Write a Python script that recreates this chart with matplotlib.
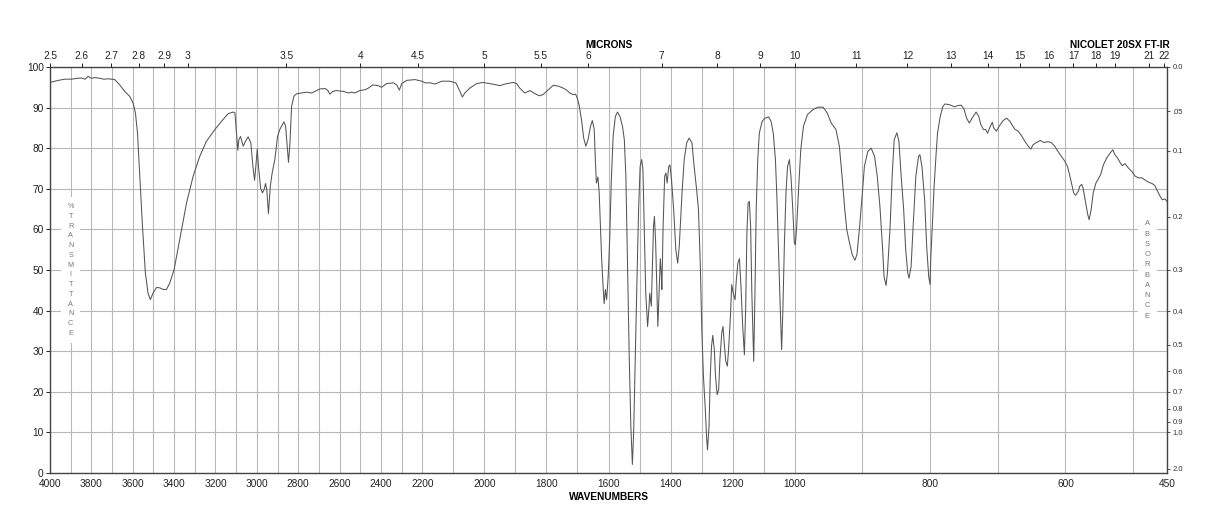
import numpy as np
import matplotlib
matplotlib.use("Agg")
from matplotlib import pyplot as plt

# spectrum (cm-1, %T)
wavenumber = [
    4000, 3977, 3950, 3929, 3897, 3870, 3848, 3830, 3816, 3800, 3785, 3768,
    3740, 3720, 3703, 3687, 3663, 3639, 3615, 3598, 3587, 3577, 3566, 3553,
    3539, 3526, 3515, 3502, 3485, 3469, 3453, 3437, 3421, 3400, 3373, 3340,
    3308, 3276, 3244, 3203, 3171, 3139, 3115, 3106, 3097, 3092, 3087, 3079,
    3066, 3055, 3042, 3029, 3019, 3011, 3005, 2998, 2992, 2982, 2973, 2965,
    2958, 2952, 2944, 2935, 2926, 2913, 2900, 2889, 2881, 2869, 2861, 2853,
    2847, 2840, 2832, 2821, 2808, 2784, 2760, 2735, 2719, 2695, 2671, 2658,
    2647, 2635, 2619, 2600, 2582, 2558, 2542, 2526, 2502, 2477, 2461, 2440,
    2413, 2397, 2373, 2340, 2324, 2311, 2300, 2276, 2235, 2203, 2191, 2175,
    2159, 2138, 2111, 2092, 2079, 2071, 2063, 2047, 2025, 2004, 1982, 1961,
    1950, 1934, 1907, 1896, 1886, 1870, 1853, 1841, 1823, 1811, 1794, 1778,
    1762, 1746, 1735, 1725, 1714, 1706, 1701, 1695, 1687, 1680, 1673, 1666,
    1658, 1652, 1646, 1642, 1639, 1634, 1630, 1626, 1622, 1617, 1614, 1610,
    1606, 1601, 1596, 1591, 1585, 1578, 1571, 1563, 1555, 1549, 1544, 1539,
    1533, 1528, 1523, 1519, 1514, 1508, 1503, 1498, 1493, 1489, 1485, 1480,
    1474, 1470, 1467, 1462, 1458, 1455, 1452, 1448, 1444, 1441, 1437, 1433,
    1430, 1428, 1424, 1419, 1415, 1411, 1406, 1402, 1397, 1390, 1383, 1377,
    1372, 1363, 1356, 1348, 1340, 1331, 1324, 1316, 1310, 1304, 1299, 1294,
    1288, 1284, 1281, 1276, 1272, 1268, 1264, 1259, 1255, 1250, 1245, 1241,
    1235, 1231, 1227, 1222, 1217, 1213, 1207, 1203, 1198, 1192, 1188, 1183,
    1178, 1173, 1168, 1162, 1158, 1154, 1150, 1146, 1142, 1138, 1132, 1128,
    1124, 1119, 1114, 1105, 1096, 1084, 1076, 1069, 1062, 1057, 1052, 1046,
    1042, 1038, 1033, 1028, 1023, 1017, 1012, 1006, 1001, 999, 997, 994,
    991, 987, 981, 973, 966, 958, 952, 946, 939, 934, 930, 926,
    923, 919, 915, 911, 908, 904, 900, 897, 892, 887, 882, 878,
    874, 870, 868, 865, 863, 859, 856, 853, 849, 846, 843, 839,
    836, 833, 831, 828, 825, 821, 817, 815, 812, 808, 805, 802,
    800, 799, 796, 794, 791, 789, 785, 781, 778, 771, 764, 759,
    754, 750, 746, 742, 738, 732, 728, 725, 721, 718, 715, 711,
    708, 706, 702, 698, 692, 687, 682, 675, 670, 665, 660, 655,
    651, 648, 643, 637, 632, 626, 621, 616, 611, 606, 601, 597,
    594, 590, 588, 585, 581, 579, 576, 574, 570, 567, 565, 562,
    559, 555, 552, 548, 544, 539, 534, 530, 527, 523, 519, 516,
    512, 507, 502, 497, 492, 487, 482, 477, 472, 468, 464, 460,
    457, 453, 450,
]
transmittance = [
    96.2, 96.5, 96.8, 97.0, 97.0, 97.2, 97.3, 97.0, 97.7, 97.2, 97.4, 97.3,
    97.0, 97.1, 97.0, 96.9, 95.6, 94.0, 92.8, 91.1, 88.7, 83.7, 73.1, 60.8,
    49.3, 44.3, 42.7, 44.3, 45.7, 45.6, 45.2, 45.2, 46.8, 50.1, 57.5, 66.5,
    73.1, 78.0, 81.7, 84.6, 86.6, 88.5, 88.9, 88.7, 82.9, 79.5, 82.1, 82.9,
    80.5, 81.7, 82.8, 81.3, 75.5, 72.1, 75.5, 79.8, 75.5, 70.2, 69.0, 69.8,
    71.3, 69.8, 63.9, 70.6, 73.9, 77.2, 82.9, 84.6, 85.4, 86.5, 85.4, 80.5,
    76.5, 81.3, 90.3, 92.8, 93.4, 93.6, 93.8, 93.6, 94.0, 94.6, 94.7, 94.3,
    93.3, 93.9, 94.2, 94.1, 94.0, 93.6, 93.8, 93.6, 94.2, 94.4, 94.8, 95.6,
    95.4, 95.0, 95.9, 96.1, 95.6, 94.3, 95.9, 96.7, 96.9, 96.5, 96.1, 96.1,
    95.8, 96.5, 96.5, 96.1, 94.0, 92.6, 93.6, 94.8, 95.9, 96.2, 95.9, 95.6,
    95.4, 95.8, 96.2, 95.9, 94.8, 93.6, 94.2, 93.6, 92.9, 93.2, 94.4, 95.5,
    95.3, 94.8, 94.3, 93.6, 93.2, 93.3, 92.4, 90.7, 87.0, 82.5, 80.5, 82.1,
    85.4, 86.8, 84.6, 76.4, 71.4, 72.9, 69.0, 60.8, 52.6, 45.2, 41.7, 45.2,
    42.7, 48.4, 58.0, 72.0, 83.0, 87.8, 88.9, 87.8, 85.4, 82.1, 73.1, 52.6,
    27.9, 11.5, 2.1, 9.8, 27.9, 48.4, 64.9, 75.5, 77.2, 74.7, 60.8, 44.3,
    36.1, 40.2, 44.3, 41.1, 52.6, 60.8, 63.2, 56.7, 44.3, 36.1, 44.3, 52.8,
    49.3, 45.2, 60.8, 73.1, 73.9, 71.4, 75.5, 75.9, 72.3, 64.9, 55.0, 51.7,
    55.8, 69.0, 77.2, 81.3, 82.5, 81.3, 75.5, 69.8, 64.9, 50.9, 34.5, 23.8,
    15.6, 9.0, 5.7, 11.5, 23.8, 31.2, 33.9, 30.4, 23.8, 19.3, 20.5, 27.9,
    34.5, 36.1, 32.0, 27.5, 26.3, 30.4, 38.6, 46.4, 44.3, 42.7, 47.6, 51.7,
    52.8, 46.0, 36.9, 29.1, 40.2, 59.1, 66.5, 66.9, 60.8, 44.3, 27.5, 44.3,
    64.9, 77.2, 83.7, 86.6, 87.4, 87.7, 86.6, 83.7, 77.2, 67.3, 54.2, 39.4,
    30.4, 40.2, 56.7, 69.0, 75.5, 77.2, 73.1, 64.9, 56.7, 56.2, 60.8, 70.6,
    79.6, 85.4, 88.3, 89.5, 90.1, 90.1, 88.7, 86.2, 84.6, 80.5, 73.1, 64.9,
    59.9, 56.7, 53.8, 52.4, 53.8, 60.8, 69.0, 75.5, 79.2, 80.0, 78.0, 73.1,
    65.5, 55.0, 48.4, 46.2, 49.3, 60.8, 73.1, 82.1, 83.8, 81.7, 73.9, 64.9,
    55.0, 49.3, 48.0, 50.9, 60.8, 73.1, 78.0, 78.4, 75.5, 67.3, 55.8, 48.4,
    46.4, 52.6, 63.2, 70.6, 78.8, 83.7, 87.8, 90.3, 90.9, 90.7, 90.2, 90.5,
    90.6, 89.7, 87.4, 86.2, 87.4, 88.9, 87.8, 85.8, 84.6, 84.6, 83.7, 85.4,
    86.4, 85.0, 84.2, 85.4, 86.8, 87.4, 86.6, 84.7, 84.2, 83.1, 81.7, 80.5,
    79.8, 80.8, 81.4, 81.9, 81.4, 81.6, 81.4, 80.5, 79.2, 78.0, 76.8, 75.5,
    73.5, 70.6, 69.0, 68.4, 69.4, 70.6, 71.1, 70.2, 66.5, 63.6, 62.4, 64.9,
    69.0, 71.4, 72.3, 73.5, 75.9, 77.6, 78.8, 79.6, 78.4, 77.6, 76.4, 75.7,
    76.2, 75.1, 74.3, 73.1, 72.7, 72.7, 72.1, 71.6, 71.3, 70.8, 69.4, 68.1,
    67.3, 67.5, 66.9,
]

wavenumber_labels = [4000, 3800, 3600, 3400, 3200, 3000, 2800, 2600, 2400,
                     2200, 2000, 1800, 1600, 1400, 1200, 1000, 800, 600, 450]
wavenumber_grid = list(range(3900, 999, -100)) + [900, 700, 500]
percent_labels = list(range(0, 101, 10))
micron_labels = ["2.5", "2.6", "2.7", "2.8", "2.9", "3", "3.5", "4", "4.5",
                 "5", "5.5", "6", "7", "8", "9", "10", "11", "12", "13", "14",
                 "15", "16", "17", "18", "19", "21", "22"]
absorbance_values = [0.0, 0.05, 0.1, 0.2, 0.3, 0.4, 0.5, 0.6, 0.7, 0.8, 0.9,
                     1.0, 2.0]
absorbance_labels = ["0.0", ".05", "0.1", "0.2", "0.3", "0.4", "0.5", "0.6",
                     "0.7", "0.8", "0.9", "1.0", "2.0"]


def wn_to_pos(wn):
    '''Three equal panels: 4000-2200, 2200-1000, 1000-450.'''
    wn = np.asarray(wn, dtype=float)
    return np.where(wn <= 1000, (wn - 450) / 550,
                    np.where(wn <= 2200, 1 + (wn - 1000) / 1200,
                             2 + (wn - 2200) / 1800))


def pos_to_wn(p):
    p = np.asarray(p, dtype=float)
    return np.where(p <= 1, 450 + p * 550,
                    np.where(p <= 2, 1000 + (p - 1) * 1200,
                             2200 + (p - 2) * 1800))


plt.rcParams['font.family'] = ['Liberation Sans', 'DejaVu Sans']
W, H = 1218, 528
fig = plt.figure(figsize=(W / 100, H / 100), dpi=100)
ax = fig.add_axes([50 / W, 1 - 473 / H, 1117 / W, 406 / H])

ax.set_xscale('function', functions=(wn_to_pos, pos_to_wn))
ax.set_xlim(4000, 450)
ax.set_ylim(0, 100)

ax.plot(wavenumber, transmittance, color='#555555', lw=0.75, zorder=3)

ax.set_xticks(wavenumber_labels)
ax.set_xticklabels([str(v) for v in wavenumber_labels])
ax.set_xticks(wavenumber_grid, minor=True)
ax.set_yticks(percent_labels)
ax.grid(which='both', axis='x', color='#b8b8b8', lw=0.8)
ax.grid(which='major', axis='y', color='#b8b8b8', lw=0.8)
ax.tick_params(axis='x', which='both', length=0, pad=4, labelsize=7.3,
               colors='#222222')
ax.tick_params(axis='y', length=3, width=0.7, pad=1.5, labelsize=7.3,
               colors='#222222')
for s in ax.spines.values():
    s.set_color('#444444')
    s.set_linewidth(1.0)

# microns along the top
ax_top = ax.twiny()
ax_top.set_xscale('function', functions=(wn_to_pos, pos_to_wn))
ax_top.set_xlim(4000, 450)
ax_top.set_xticks([10000 / float(m) for m in micron_labels])
ax_top.set_xticklabels(micron_labels)
ax_top.xaxis.set_minor_locator(plt.NullLocator())
ax_top.tick_params(axis='x', length=3, width=0.7, pad=1, labelsize=7.3,
                   colors='#222222')
for s in ax_top.spines.values():
    s.set_visible(False)

# absorbance along the right
ax_right = ax.twinx()
ax_right.set_ylim(0, 100)
ax_right.set_yticks([100 * 10 ** (-a) for a in absorbance_values])
ax_right.set_yticklabels(absorbance_labels)
ax_right.tick_params(axis='y', length=2.5, width=0.6, pad=1.5, labelsize=5.5,
                     colors='#333333')
for s in ax_right.spines.values():
    s.set_visible(False)

ax.text(3900, 50, '\n'.join('%TRANSMITTANCE'), ha='center', va='center',
        fontsize=5.2, linespacing=1.55, color='#777777', zorder=4,
        bbox=dict(facecolor='white', edgecolor='none',
                  boxstyle='square,pad=0.9'))
ax.text(479, 50, '\n'.join('ABSORBANCE'), ha='center', va='center',
        fontsize=5.4, linespacing=1.65, color='#777777', zorder=4,
        bbox=dict(facecolor='white', edgecolor='none',
                  boxstyle='square,pad=0.9'))

fig.text(608.5 / W, 1 - 45 / H, 'MICRONS', ha='center', va='center',
         fontsize=7.3, fontweight='bold')
fig.text(1120 / W, 1 - 45 / H, 'NICOLET 20SX FT-IR', ha='center',
         va='center', fontsize=7.3, fontweight='bold')
fig.text(608.5 / W, 1 - 497 / H, 'WAVENUMBERS', ha='center', va='center',
         fontsize=7.3, fontweight='bold')

fig.savefig('out.png', dpi=100)
